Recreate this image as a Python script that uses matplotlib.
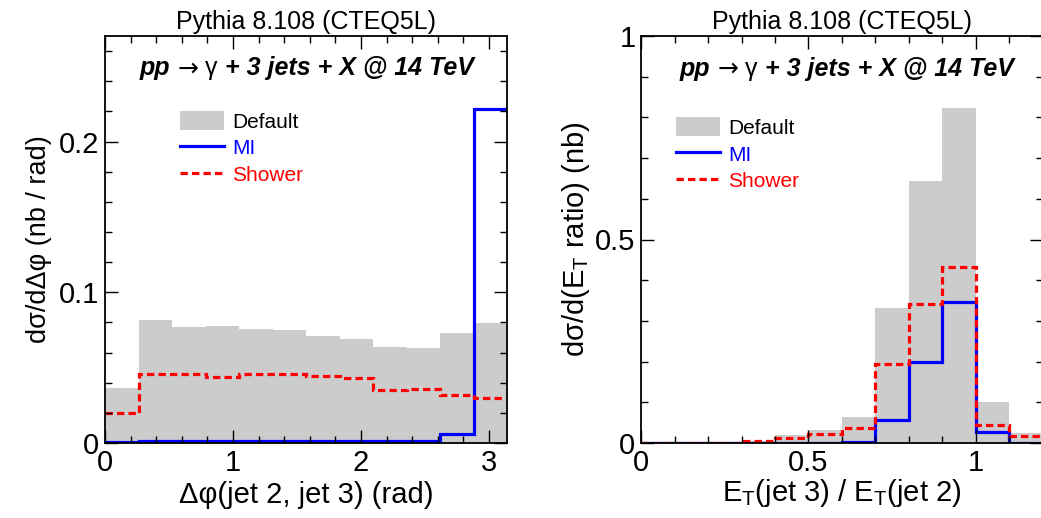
import matplotlib
matplotlib.use('Agg')
import matplotlib.pyplot as plt
import numpy as np
from matplotlib.patches import Patch
from matplotlib.lines import Line2D
from matplotlib.transforms import offset_copy

plt.rcParams['font.family'] = ['Liberation Sans', 'DejaVu Sans']
plt.rcParams['mathtext.fontset'] = 'custom'
plt.rcParams['mathtext.rm'] = 'Liberation Sans'
plt.rcParams['mathtext.it'] = 'Liberation Sans:italic'

# --- data: left panel, delta phi (12 bins over 0..pi)
dphi_edges = np.linspace(0, np.pi, 13)
dphi_default = [0.0363, 0.0817, 0.0769, 0.0775, 0.0757, 0.0751,
                0.0709, 0.0687, 0.0640, 0.0627, 0.0731, 0.0795]
dphi_mi = [0.0004, 0.0010, 0.0012, 0.0012, 0.0012, 0.0012,
           0.0012, 0.0012, 0.0015, 0.0015, 0.0062, 0.2217]
dphi_shower = [0.0199, 0.0456, 0.0456, 0.0441, 0.0456, 0.0460,
               0.0445, 0.0430, 0.0352, 0.0357, 0.0317, 0.0299]

# --- data: right panel, ET ratio (12 bins over 0..1.2)
et_edges = np.linspace(0, 1.2, 13)
et_default = [0.0, 0.0, 0.002, 0.004, 0.0204, 0.032,
              0.0646, 0.331, 0.644, 0.824, 0.0998, 0.0246]
et_mi = [0.0005, 0.0005, 0.0005, 0.0005, 0.0005, 0.0005,
         0.0025, 0.057, 0.198, 0.346, 0.027, 0.0005]
et_shower = [0.0005, 0.0005, 0.0005, 0.004, 0.0123, 0.022,
             0.0368, 0.193, 0.341, 0.432, 0.0433, 0.0163]

title = 'Pythia 8.108 (CTEQ5L)'
# process label pieces: (text, style)
process = [('pp ', 'bi'), ('\u2192', 'arrow'), (' \u03b3 ', 'r'), ('+ 3 jets + X @ 14 TeV', 'bi')]
labels = ['Default', 'MI', 'Shower']

gray = '#cccccc'
blue = '#0000ff'
red = '#ff0000'
lw = 2.3
dash = (0, (2.3, 1.3))
tick_fs = 21
lab_fs = 21

W, H = 1041, 518
fig = plt.figure(figsize=(W/100, H/100), dpi=100)
ax1 = fig.add_axes([105/W, 1-443/H, 402/W, 407/H])
ax2 = fig.add_axes([641/W, 1-443/H, 402/W, 407/H])


def draw(ax, edges, dflt, mi, sh):
    ax.stairs(dflt, edges, fill=True, color=gray, linewidth=0)
    ax.stairs(mi, edges, baseline=None, color=blue, linewidth=lw)
    ax.stairs(sh, edges, baseline=None, color=red, linewidth=lw, linestyle=dash)
    ax.tick_params(which='both', direction='in', top=True, right=True, labelsize=tick_fs, width=1)
    ax.tick_params(which='major', length=9.5, pad=4)
    ax.tick_params(which='minor', length=4.7)
    for s in ax.spines.values():
        s.set_linewidth(1.3)
    ax.set_title(title, fontsize=18, pad=5)


draw(ax1, dphi_edges, dphi_default, dphi_mi, dphi_shower)
ax1.set_xlim(0, np.pi)
ax1.set_ylim(0, 0.27)
ax1.set_xticks([0, 1, 2, 3])
ax1.set_xticklabels(['0', '1', '2', '3'])
ax1.set_xticks(np.arange(0.2, 3.15, 0.2), minor=True)
ax1.set_yticks([0, 0.1, 0.2])
ax1.set_yticklabels(['0', '0.1', '0.2'])
ax1.set_yticks(np.arange(0.02, 0.27, 0.02), minor=True)
ax1.set_xlabel('\u0394\u03c6(jet 2, jet 3) (rad)', fontsize=lab_fs, labelpad=3)
ax1.set_ylabel('d\u03c3/d\u0394\u03c6 (nb / rad)', fontsize=19.5, labelpad=5)

draw(ax2, et_edges, et_default, et_mi, et_shower)
ax2.set_xlim(0, 1.2)
ax2.set_ylim(0, 1.0)
ax2.set_xticks([0, 0.5, 1])
ax2.set_xticklabels(['0', '0.5', '1'])
ax2.set_xticks(np.arange(0.1, 1.2, 0.1), minor=True)
ax2.set_yticks([0, 0.5, 1])
ax2.set_yticklabels(['0', '0.5', '1'])
ax2.set_yticks(np.arange(0.1, 1.0, 0.1), minor=True)
ax2.set_xlabel(r'E$_\mathregular{T}$(jet 3) / E$_\mathregular{T}$(jet 2)', fontsize=lab_fs, labelpad=0)
ax2.set_ylabel(r'd$\mathregular{\sigma}$/d(E$_\mathregular{T}$ ratio) (nb)', fontsize=lab_fs, labelpad=2)

# process label, drawn in pieces and centred
renderer = fig.canvas.get_renderer()
styles = {'bi': dict(fontweight='bold', fontstyle='italic'),
          'r': dict(),
          'arrow': dict(family='DejaVu Sans')}
for ax, yp, xc in [(ax1, 0.921, 0.502), (ax2, 0.919, 0.512)]:
    pieces = []
    x = 0.0
    for txt, st in process:
        t = ax.text(xc, yp, txt, transform=ax.transAxes, ha='left', va='center',
                    fontsize=18, **styles[st])
        w = t.get_window_extent(renderer).width
        pieces.append((t, x))
        x += w
    for t, x0 in pieces:
        t.set_transform(offset_copy(ax.transAxes, fig=fig, x=x0 - x / 2, units='dots'))

handles = [Patch(facecolor=gray, edgecolor='none'),
           Line2D([], [], color=blue, lw=lw),
           Line2D([], [], color=red, lw=lw, linestyle=dash)]
for ax, anchor in [(ax1, (0.187, 0.815)), (ax2, (0.087, 0.8))]:
    leg = ax.legend(handles, labels, loc='upper left', bbox_to_anchor=anchor, frameon=False,
                    fontsize=15, handlelength=2.1, handleheight=1.0, handletextpad=0.4,
                    labelspacing=0.3, borderpad=0, borderaxespad=0)
    for t, c in zip(leg.get_texts(), ['black', blue, red]):
        t.set_color(c)

fig.savefig('out.png', dpi=100)
